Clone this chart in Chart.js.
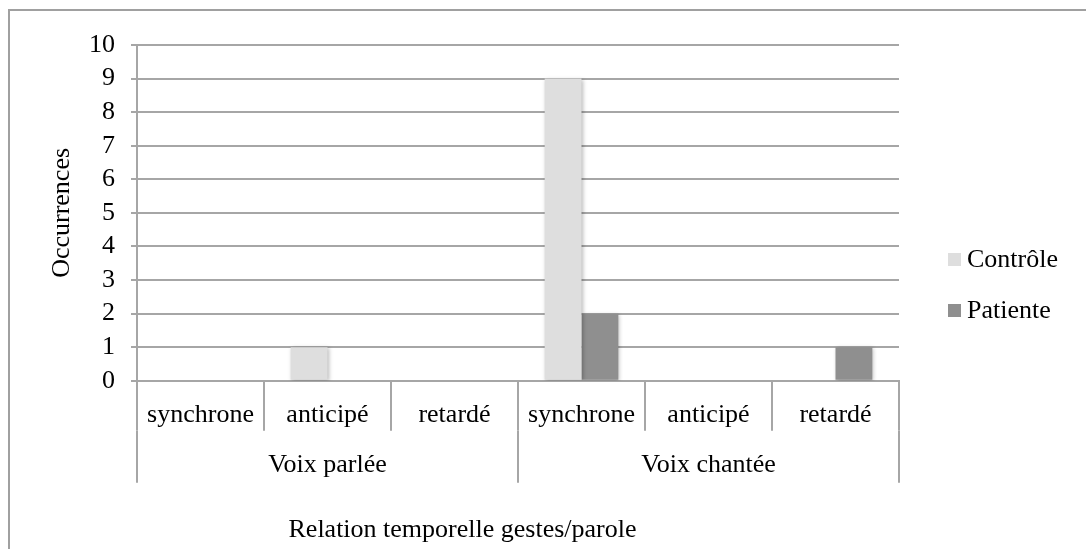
<!DOCTYPE html>
<html>
<head>
<meta charset="utf-8">
<script src="https://cdn.jsdelivr.net/npm/chart.js@4.4.1/dist/chart.umd.min.js"></script>
<style>
  html, body { margin: 0; padding: 0; background: #fff; }
  #wrap { position: relative; width: 1086px; height: 549px; overflow: hidden; }
  #legend { position: absolute; left: 948px; top: 246px; font-family: 'Liberation Serif', 'Times New Roman', serif; font-size: 26px; color: #000; }
  #legend .item { display: flex; align-items: center; height: 26px; margin-bottom: 25px; white-space: nowrap; }
  #legend .box { width: 13px; height: 13px; margin-right: 6px; }
</style>
</head>
<body>
<div id="wrap">
  <canvas id="chart" width="1086" height="549"></canvas>
  <div id="legend"></div>
</div>
<script>
'use strict';

var groups = ['Voix parlée', 'Voix chantée'];
var categories = ['synchrone', 'anticipé', 'retardé', 'synchrone', 'anticipé', 'retardé'];
var controle = [0, 1, 0, 9, 0, 0];
var patiente = [0, 0, 0, 2, 0, 1];
var seriesNames = ['Contrôle', 'Patiente'];

(function() {
  var FONT = "'Liberation Serif', 'Times New Roman', serif";
  var LINE = '#a6a6a6';

  // grey frame round the whole chart (Excel chart area border)
  var frame = {
    id: 'frame',
    beforeDraw: function(chart) {
      var c = chart.ctx;
      c.save();
      c.strokeStyle = '#a0a0a0';
      c.lineWidth = 2;
      c.strokeRect(9, 10, 1200, 1200);
      c.restore();
    }
  };

  var barShadow = {
    id: 'barShadow',
    beforeDatasetsDraw: function(chart) {
      var c = chart.ctx;
      c.save();
      c.shadowColor = 'rgba(0,0,0,0.28)';
      c.shadowBlur = 4;
      c.shadowOffsetX = 1;
      c.shadowOffsetY = 1;
    },
    afterDatasetsDraw: function(chart) {
      chart.ctx.restore();
    }
  };

  var htmlLegend = {
    id: 'htmlLegend',
    afterUpdate: function(chart) {
      var box = document.getElementById('legend');
      box.innerHTML = '';
      var items = chart.options.plugins.legend.labels.generateLabels(chart);
      items.forEach(function(it) {
        var row = document.createElement('div');
        row.className = 'item';
        var sw = document.createElement('span');
        sw.className = 'box';
        sw.style.background = it.fillStyle;
        var tx = document.createElement('span');
        tx.textContent = it.text;
        row.appendChild(sw);
        row.appendChild(tx);
        box.appendChild(row);
      });
    }
  };

  new Chart(document.getElementById('chart'), {
    type: 'bar',
    data: {
      labels: categories,
      datasets: [{
        label: seriesNames[0],
        data: controle,
        backgroundColor: '#dedede',
        categoryPercentage: 0.58,
        barPercentage: 1
      }, {
        label: seriesNames[1],
        data: patiente,
        backgroundColor: '#8f8f8f',
        categoryPercentage: 0.58,
        barPercentage: 1
      }]
    },
    options: {
      responsive: false,
      animation: false,
      layout: { padding: { top: 45, right: 187, left: 26, bottom: 0 } },
      plugins: {
        legend: { display: false },
        tooltip: { enabled: false },
        title: {
          display: true,
          position: 'bottom',
          text: 'Relation temporelle gestes/parole',
          color: '#000',
          font: { family: FONT, size: 26, weight: 'normal' },
          padding: { top: 0, bottom: 3 }
        }
      },
      scales: {
        y: {
          min: 0,
          max: 10,
          ticks: { stepSize: 1, autoSkip: false, padding: 16, color: '#000', font: { family: FONT, size: 26 } },
          grid: { color: LINE, lineWidth: 2, tickLength: 6 },
          border: { color: LINE, width: 2 },
          title: {
            display: true,
            text: 'Occurrences',
            color: '#000',
            font: { family: FONT, size: 26 },
            padding: { top: 21, bottom: 0 }
          },
          afterFit: function(s) { s.width = 111; }
        },
        x: {
          weight: 0,
          ticks: { padding: -31, color: '#000', font: { family: FONT, size: 26 }, maxRotation: 0, autoSkip: false },
          grid: { offset: true, drawOnChartArea: false, color: LINE, lineWidth: 2, tickLength: 50 },
          border: { color: LINE, width: 2 },
          afterFit: function(s) { s.height = 50; }
        },
        x2: {
          type: 'category',
          position: 'bottom',
          weight: 1,
          labels: groups,
          offset: true,
          ticks: { padding: -33, color: '#000', font: { family: FONT, size: 26 }, maxRotation: 0, autoSkip: false },
          grid: { offset: true, drawOnChartArea: false, color: LINE, lineWidth: 2, tickLength: 52 },
          border: { display: false },
          afterFit: function(s) { s.height = 84; }
        }
      }
    },
    plugins: [frame, barShadow, htmlLegend]
  });
})();
</script>
</body>
</html>
